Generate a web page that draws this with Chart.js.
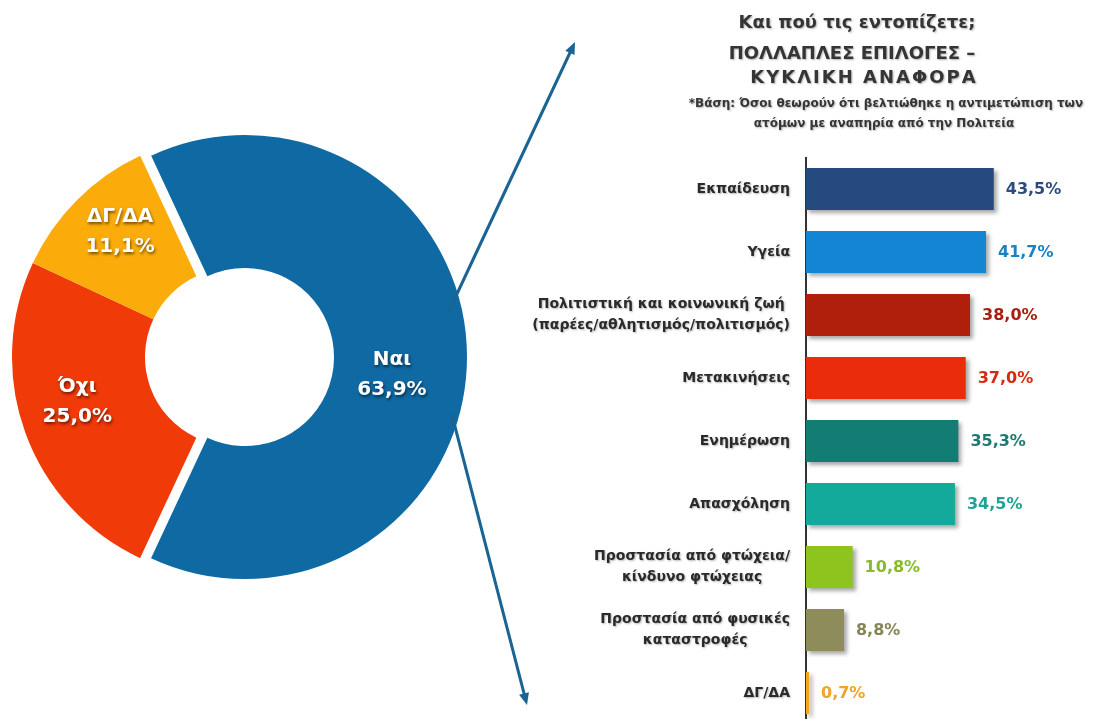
<!DOCTYPE html>
<html lang="el">
<head>
<meta charset="utf-8">
<title>Και πού τις εντοπίζετε;</title>
<script src="https://cdn.jsdelivr.net/npm/chart.js@4.4.1/dist/chart.umd.min.js"></script>
<style>
  html, body { margin: 0; padding: 0; background: #fff; overflow: hidden; }
  body { width: 1103px; height: 719px; position: relative; }
  #pieChart { position: absolute; left: 0; top: 0; }
  #barChart { position: absolute; left: 480px; top: 0; }
</style>
</head>
<body>
<canvas id="pieChart" width="600" height="719"></canvas>
<canvas id="barChart" width="623" height="730"></canvas>
<script>
// doughnut: did the treatment improve
let pieLabels = ["Ναι", "Όχι", "ΔΓ/ΔΑ"];
let pieValues = [63.9, 25.0, 11.1];
let pieColors = ["#0f69a3", "#f03a08", "#fcac0a"];

// bars: where do you see it (multiple answers)
let barLabels = [
  "Εκπαίδευση",
  "Υγεία",
  ["Πολιτιστική και κοινωνική ζωή", "(παρέες/αθλητισμός/πολιτισμός)"],
  "Μετακινήσεις",
  "Ενημέρωση",
  "Απασχόληση",
  ["Προστασία από φτώχεια/", "κίνδυνο φτώχειας"],
  ["Προστασία από φυσικές", "καταστροφές"],
  "ΔΓ/ΔΑ"
];
let barValues = [43.5, 41.7, 38.0, 37.0, 35.3, 34.5, 10.8, 8.8, 0.7];
let barColors = ["#244a80", "#1485d2", "#b01f0b", "#ea2b0c", "#137c73", "#14aa9b", "#8dc41e", "#8f8c5c", "#f2a71e"];
let valueColors = ["#2b4c7c", "#1b80c4", "#a62012", "#d82a10", "#1c7b71", "#1ea394", "#88ba2c", "#878558", "#f0a324"];

let titleLines = ["Και πού τις εντοπίζετε;", "ΠΟΛΛΑΠΛΕΣ ΕΠΙΛΟΓΕΣ –", "ΚΥΚΛΙΚΗ ΑΝΑΦΟΡΑ"];
let subtitleLines = ["*Βάση: Όσοι θεωρούν ότι βελτιώθηκε η αντιμετώπιση των", "ατόμων με αναπηρία από την Πολιτεία"];

const FONT = "'DejaVu Sans', 'Noto Sans', sans-serif";

function pct(v) {
  return v.toFixed(1).replace(".", ",") + "%";
}

function setShadow(ctx, color, blur, dx, dy) {
  ctx.shadowColor = color;
  ctx.shadowBlur = blur;
  ctx.shadowOffsetX = dx;
  ctx.shadowOffsetY = dy;
}

function drawArrow(ctx, x1, y1, x2, y2) {
  let ang = Math.atan2(y2 - y1, x2 - x1);
  let head = 13;
  ctx.save();
  ctx.strokeStyle = "#1a6494";
  ctx.fillStyle = "#1a6494";
  ctx.lineWidth = 3;
  ctx.beginPath();
  ctx.moveTo(x1, y1);
  ctx.lineTo(x2 - Math.cos(ang) * head * 0.7, y2 - Math.sin(ang) * head * 0.7);
  ctx.stroke();
  ctx.beginPath();
  ctx.moveTo(x2, y2);
  ctx.lineTo(x2 - Math.cos(ang - 0.4) * head, y2 - Math.sin(ang - 0.4) * head);
  ctx.lineTo(x2 - Math.cos(ang + 0.4) * head, y2 - Math.sin(ang + 0.4) * head);
  ctx.closePath();
  ctx.fill();
  ctx.restore();
}

// "Ναι" slice pulled out of the ring, same radius as the rest
let explode = [11, 0, 0];
// label placement inside the slices (radius from centre, turn in degrees)
let labelRadius = [159, 163, 169];
let labelTurn = [6.5, 4, 2.6];

const pieText = {
  id: "pieText",
  beforeDatasetDraw(chart, args) {
    const ctx = chart.ctx;
    const arcs = args.meta.data;
    for (let i = 0; i < arcs.length; i++) {
      let a = arcs[i];
      let mid = (a.startAngle + a.endAngle) / 2;
      ctx.save();
      ctx.translate(Math.cos(mid) * explode[i], Math.sin(mid) * explode[i]);
      a.draw(ctx, chart.chartArea);
      ctx.restore();
    }
    return false;
  },
  afterDatasetsDraw(chart) {
    const ctx = chart.ctx;
    const arcs = chart.getDatasetMeta(0).data;
    ctx.save();
    ctx.font = "bold 20px " + FONT;
    ctx.fillStyle = "#ffffff";
    ctx.textAlign = "center";
    ctx.textBaseline = "middle";
    setShadow(ctx, "rgba(0,0,0,0.55)", 3, 1, 2);
    for (let i = 0; i < arcs.length; i++) {
      let a = arcs[i];
      let mid = (a.startAngle + a.endAngle) / 2 + labelTurn[i] * Math.PI / 180;
      let x = a.x + Math.cos(mid) * labelRadius[i];
      let y = a.y + Math.sin(mid) * labelRadius[i];
      ctx.fillText(pieLabels[i], x, y - 15);
      ctx.fillText(pct(pieValues[i]), x, y + 15);
    }
    ctx.restore();
  },
  afterDraw(chart) {
    drawArrow(chart.ctx, 448, 313, 575, 42);
    drawArrow(chart.ctx, 452, 415, 527, 705);
  }
};

let pieChart = new Chart(document.getElementById("pieChart").getContext("2d"), {
  type: "doughnut",
  data: {
    labels: pieLabels,
    datasets: [{
      data: pieValues,
      backgroundColor: pieColors,
      borderWidth: 0,
      hoverOffset: 0
    }]
  },
  options: {
    responsive: false,
    animation: false,
    rotation: -25,
    cutout: "40.1%",
    layout: { padding: { left: 12, right: 144, top: 135, bottom: 140 } },
    plugins: { legend: { display: false }, tooltip: { enabled: false } }
  },
  plugins: [pieText]
});

const barText = {
  id: "barText",
  beforeDatasetsDraw(chart) {
    const ctx = chart.ctx;
    ctx.save();
    setShadow(ctx, "rgba(0,0,0,0.35)", 4, 3, 3);
  },
  afterDatasetsDraw(chart) {
    const ctx = chart.ctx;
    ctx.restore();
    const bars = chart.getDatasetMeta(0).data;
    const yScale = chart.scales.y;
    ctx.save();
    ctx.textBaseline = "middle";

    // value labels
    ctx.font = "bold 16px " + FONT;
    ctx.textAlign = "left";
    for (let i = 0; i < bars.length; i++) {
      ctx.fillStyle = valueColors[i];
      ctx.fillText(pct(barValues[i]), bars[i].x + 12, bars[i].y + 1);
    }

    // category labels, right aligned block with centred lines
    setShadow(ctx, "rgba(0,0,0,0.3)", 2, 1, 1);
    ctx.fillStyle = "#2a2a2a";
    ctx.font = "bold 14px " + FONT;
    ctx.textAlign = "center";
    let right = chart.chartArea.left - 16;
    for (let i = 0; i < barLabels.length; i++) {
      let lines = Array.isArray(barLabels[i]) ? barLabels[i] : [barLabels[i]];
      let w = 0;
      for (let j = 0; j < lines.length; j++) {
        w = Math.max(w, ctx.measureText(lines[j]).width);
      }
      let y = yScale.getPixelForValue(i) - (lines.length - 1) * 10.5;
      for (let j = 0; j < lines.length; j++) {
        ctx.fillText(lines[j], right - w / 2, y + j * 21);
      }
    }

    // title and base note
    ctx.fillStyle = "#353535";
    ctx.font = "bold 18px " + FONT;
    ctx.fillText(titleLines[0], 377, 23);
    ctx.fillText(titleLines[1], 372, 54);
    ctx.letterSpacing = "2px";
    ctx.fillText(titleLines[2], 384, 78);
    ctx.letterSpacing = "0px";
    ctx.font = "bold 12px " + FONT;
    ctx.fillText(subtitleLines[0], 406, 104);
    ctx.fillText(subtitleLines[1], 404, 124);
    ctx.restore();
  }
};

let barChart = new Chart(document.getElementById("barChart").getContext("2d"), {
  type: "bar",
  data: {
    labels: barLabels,
    datasets: [{
      data: barValues,
      backgroundColor: barColors,
      borderWidth: 0,
      categoryPercentage: 1,
      barPercentage: 0.67
    }]
  },
  options: {
    indexAxis: "y",
    responsive: false,
    animation: false,
    layout: { padding: { left: 0, right: 38, top: 157.5, bottom: 5.5 } },
    scales: {
      x: { display: false, min: 0, max: 60 },
      y: {
        afterFit(scale) { scale.width = 326; },
        grid: { display: false, drawTicks: false },
        border: { display: true, color: "#333333", width: 2 },
        ticks: { display: false }
      }
    },
    plugins: { legend: { display: false }, tooltip: { enabled: false } }
  },
  plugins: [barText]
});
</script>
</body>
</html>
